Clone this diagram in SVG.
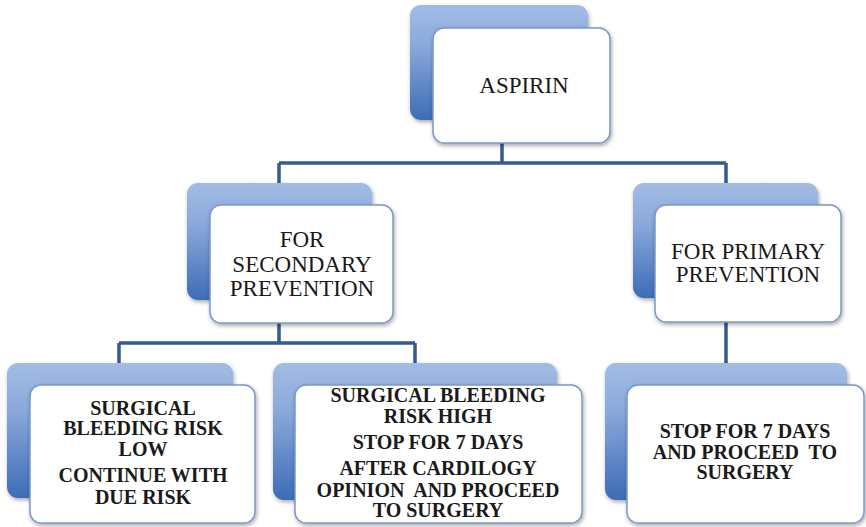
<svg xmlns="http://www.w3.org/2000/svg" width="866" height="527" viewBox="0 0 866 527">
<defs>
<linearGradient id="bg" x1="0" y1="0" x2="0" y2="1">
<stop offset="0" stop-color="#a2bce4"/>
<stop offset="0.35" stop-color="#8aa9db"/>
<stop offset="1" stop-color="#3d6cb6"/>
</linearGradient>
<filter id="sh" x="-10%" y="-10%" width="125%" height="130%">
<feGaussianBlur in="SourceAlpha" stdDeviation="2"/>
<feOffset dx="1" dy="2" result="b"/>
<feComponentTransfer><feFuncA type="linear" slope="0.35"/></feComponentTransfer>
<feMerge><feMergeNode/><feMergeNode in="SourceGraphic"/></feMerge>
</filter>
</defs>
<style>
.back{fill:url(#bg);filter:url(#sh)}
.front{fill:#ffffff;stroke:#7b98c9;stroke-width:1.5;filter:url(#sh)}
.conn{fill:none;stroke:#345a94;stroke-width:3.5}
text{font-family:'Liberation Serif','DejaVu Serif','Times New Roman',serif;fill:#1a1a1a;text-anchor:middle}
.t{font-size:23px}
.b{font-size:20px;font-weight:bold}
</style>
<rect width="866" height="527" fill="#ffffff"/>
<g id="connectors">
<path class="conn" d="M502 143 V163 M279 163 H726 M279 163 V183 M726 163 V183"/>
<path class="conn" d="M279 323 V343 M119 343 H415 M119 343 V363 M415 343 V363"/>
<path class="conn" d="M726 322 V363"/>
</g>
<g id="aspirin">
<rect class="back" x="410" y="5" width="178" height="115" rx="11"/>
<rect class="front" x="433" y="28" width="177" height="115" rx="11"/>
<text class="t" x="524" y="93">ASPIRIN</text>
</g>
<g id="secondary">
<rect class="back" x="187" y="183" width="185" height="117" rx="11"/>
<rect class="front" x="210" y="205" width="183" height="118" rx="11"/>
<text class="t" x="302" y="247">FOR</text>
<text class="t" x="302" y="272">SECONDARY</text>
<text class="t" x="302" y="296">PREVENTION</text>
</g>
<g id="primary">
<rect class="back" x="633" y="183" width="185" height="115" rx="11"/>
<rect class="front" x="655" y="205" width="186" height="117" rx="11"/>
<text class="t" x="748" y="259">FOR PRIMARY</text>
<text class="t" x="748" y="282">PREVENTION</text>
</g>
<g id="low-risk">
<rect class="back" x="7" y="363" width="226" height="135" rx="11"/>
<rect class="front" x="30" y="385" width="225" height="138" rx="11"/>
<text class="b" x="143" y="415">SURGICAL</text>
<text class="b" x="143" y="435">BLEEDING RISK</text>
<text class="b" x="143" y="456">LOW</text>
<text class="b" x="143" y="482">CONTINUE WITH</text>
<text class="b" x="143" y="504">DUE RISK</text>
</g>
<g id="high-risk">
<rect class="back" x="273" y="363" width="284" height="137" rx="11"/>
<rect class="front" x="295" y="385" width="287" height="138" rx="11"/>
<text class="b" x="438" y="402">SURGICAL BLEEDING</text>
<text class="b" x="438" y="423">RISK HIGH</text>
<text class="b" x="438" y="449">STOP FOR 7 DAYS</text>
<text class="b" x="438" y="475">AFTER CARDILOGY</text>
<text class="b" x="438" y="497" xml:space="preserve">OPINION  AND PROCEED</text>
<text class="b" x="438" y="517">TO SURGERY</text>
</g>
<g id="primary-action">
<rect class="back" x="605" y="363" width="242" height="137" rx="11"/>
<rect class="front" x="627" y="385" width="237" height="138" rx="11"/>
<text class="b" x="745" y="438">STOP FOR 7 DAYS</text>
<text class="b" x="745" y="459" xml:space="preserve">AND PROCEED  TO</text>
<text class="b" x="745" y="479">SURGERY</text>
</g>
</svg>
